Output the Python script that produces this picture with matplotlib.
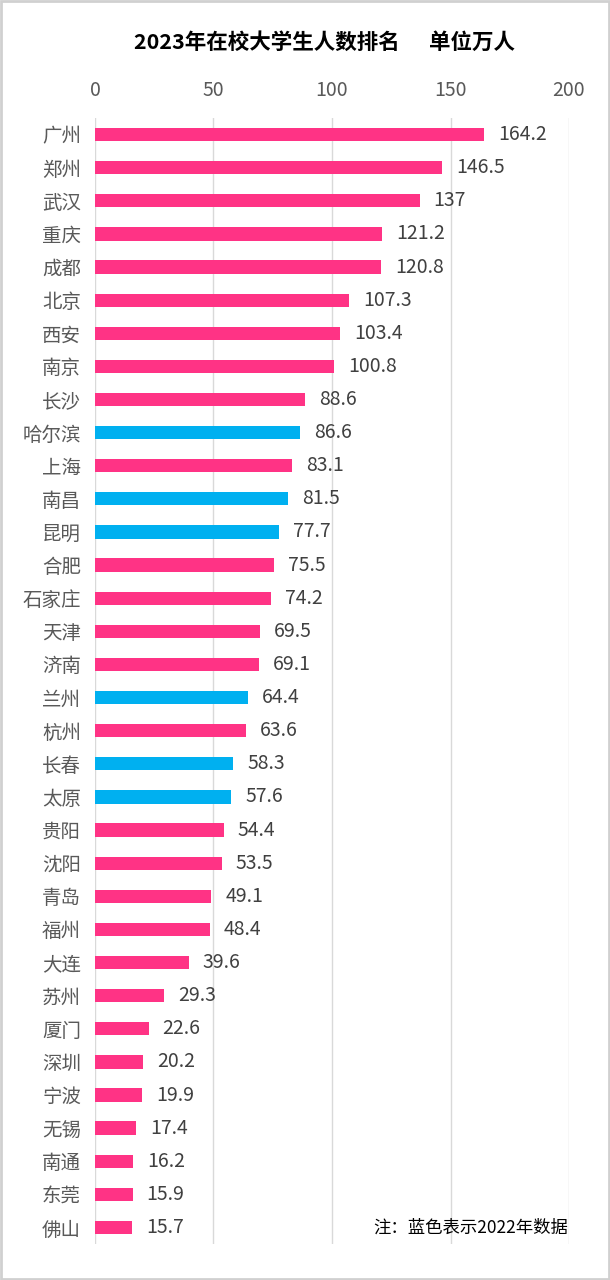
import matplotlib.pyplot as plt
import matplotlib.patches as mpatches

plt.rcParams['font.family'] = ['Noto Sans CJK SC', 'DejaVu Sans']

cities = ['广州', '郑州', '武汉', '重庆', '成都', '北京', '西安', '南京', '长沙', '哈尔滨',
          '上海', '南昌', '昆明', '合肥', '石家庄', '天津', '济南', '兰州', '杭州', '长春',
          '太原', '贵阳', '沈阳', '青岛', '福州', '大连', '苏州', '厦门', '深圳', '宁波',
          '无锡', '南通', '东莞', '佛山']
values = [164.2, 146.5, 137, 121.2, 120.8, 107.3, 103.4, 100.8, 88.6, 86.6,
          83.1, 81.5, 77.7, 75.5, 74.2, 69.5, 69.1, 64.4, 63.6, 58.3,
          57.6, 54.4, 53.5, 49.1, 48.4, 39.6, 29.3, 22.6, 20.2, 19.9,
          17.4, 16.2, 15.9, 15.7]
# 蓝色 = 2022年数据
is_2022 = ['哈尔滨', '南昌', '昆明', '兰州', '长春', '太原']

pink = '#FF3385'
blue = '#00B0F0'
colors = [blue if c in is_2022 else pink for c in cities]

fig = plt.figure(figsize=(6.1, 12.8), dpi=100)
ax = fig.add_axes([0.1557, 0.0281, 0.7771, 0.8797])

y = list(range(len(cities)))
ax.barh(y, values, height=0.4, color=colors, zorder=3)
ax.set_ylim(len(cities) - 0.5, -0.5)
ax.set_xlim(0, 200)
ax.set_xticks([0, 50, 100, 150, 200])
ax.xaxis.tick_top()
ax.tick_params(axis='x', length=0, pad=12, labelsize=14, labelcolor='#595959')
ax.tick_params(axis='y', length=0, pad=10, labelsize=14, labelcolor='#595959')
ax.set_yticks(y)
ax.set_yticklabels(cities)
ax.grid(axis='x', color='#D9D9D9', linewidth=1, zorder=0)
for s in ax.spines.values():
    s.set_visible(False)

# 数值标签
for yi, v in zip(y, values):
    ax.annotate(f'{v:g}', (v, yi), xytext=(10, 0), textcoords='offset points',
                va='center', ha='left', fontsize=14, color='#404040')

fig.text(0.532, 0.967, '2023年在校大学生人数排名      单位万人', ha='center', va='center',
         fontsize=15.5, fontweight='bold', color='black')
fig.text(0.932, 0.041, '注：蓝色表示2022年数据', ha='right', va='center',
         fontsize=12.5, color='black')

# 外框
fig.patches.append(mpatches.Rectangle((0.002, 0.001), 0.996, 0.998, transform=fig.transFigure,
                                      fill=False, edgecolor='#D0D0D0', linewidth=2))

fig.savefig('out.png', dpi=100, facecolor='white')
